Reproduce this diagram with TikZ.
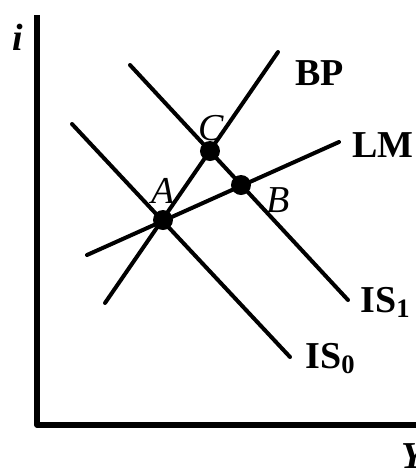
\documentclass[tikz,border=0pt]{standalone}
\usepackage{fontspec}
\setmainfont{Liberation Serif}
\usetikzlibrary{positioning}

\begin{document}
\begin{tikzpicture}[
  x=0.5pt, y=-0.5pt,
  line cap=round,
  line join=round,
  font=\fontsize{19}{22}\selectfont,
  axis/.style={draw=black, line width=2.6pt, line cap=butt},
  curve/.style={draw=black, line width=2pt},
  point/.style={circle, fill=black, inner sep=0pt, minimum size=10pt},
  pointlabel/.style={anchor=base west, inner sep=0pt, font=\fontsize{19}{22}\selectfont\itshape},
  curvelabel/.style={anchor=base west, inner sep=0pt, font=\fontsize{19}{22}\selectfont\bfseries},
  axislabel/.style={anchor=base west, inner sep=0pt, font=\fontsize{19}{22}\selectfont\bfseries\itshape}
]
\useasboundingbox (0,0) rectangle (416,468);

% Axes.
\coordinate (origin) at (37,425);
\coordinate (iTop) at (37,15);
\coordinate (yEnd) at (416,425);
\draw[axis] (iTop) -- (origin) -- (yEnd);
\node[axislabel] (iLabel) at (12,50) {i};
\node[axislabel] (yLabel) at (401,468) {Y};

% Curve end points.
\coordinate (isZeroTop) at (72,124);
\coordinate (isZeroEnd) at (290,357);
\coordinate (isOneTop) at (130,65);
\coordinate (isOneEnd) at (348,300);
\coordinate (lmLow) at (87,255);
\coordinate (lmEnd) at (339,142);
\coordinate (bpLow) at (105,303);
\coordinate (bpEnd) at (278,52);

\draw[curve] (isZeroTop) -- (isZeroEnd);
\draw[curve] (isOneTop) -- (isOneEnd);
\draw[curve] (lmLow) -- (lmEnd);
\draw[curve] (bpLow) -- (bpEnd);

% Curve labels.
\node[curvelabel] (bpLabel) at (295,85) {BP};
\node[curvelabel] (lmLabel) at (352,157) {LM};
\node[curvelabel] (isOneLabel) at (360,312) {IS\textsubscript{1}};
\node[curvelabel] (isZeroLabel) at (305,368) {IS\textsubscript{0}};

% Equilibrium points.
\node[point] (A) at (163,220) {};
\node[point] (C) at (210,151) {};
\node[point] (B) at (241,185) {};
\node[pointlabel] (labA) at (151,203) {A};
\node[pointlabel] (labC) at (198,140) {C};
\node[pointlabel] (labB) at (266,212) {B};

\end{tikzpicture}
\end{document}
